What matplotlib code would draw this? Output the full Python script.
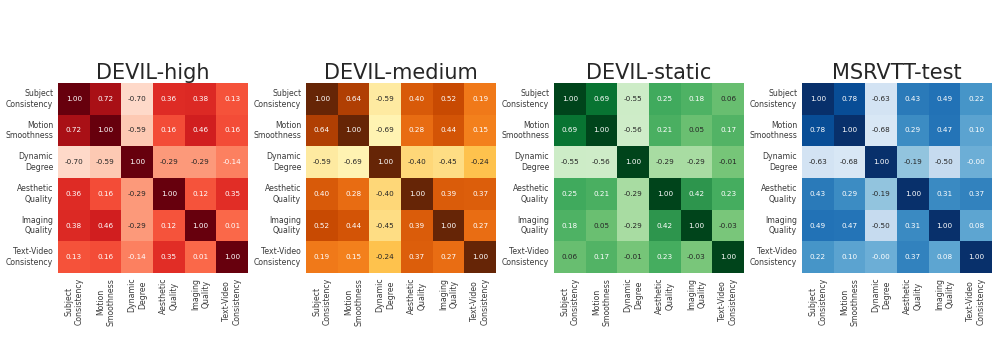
import numpy as np
import matplotlib
matplotlib.use("Agg")
import matplotlib.pyplot as plt
import seaborn as sns

labels = ["Subject\nConsistency", "Motion\nSmoothness", "Dynamic\nDegree",
          "Aesthetic\nQuality", "Imaging\nQuality", "Text-Video\nConsistency"]

titles = ["DEVIL-high", "DEVIL-medium", "DEVIL-static", "MSRVTT-test"]
cmaps = ["Reds", "YlOrBr", "Greens", "Blues"]

devil_high = [
    [1.00, 0.72, -0.70, 0.36, 0.38, 0.13],
    [0.72, 1.00, -0.59, 0.16, 0.46, 0.16],
    [-0.70, -0.59, 1.00, -0.29, -0.29, -0.14],
    [0.36, 0.16, -0.29, 1.00, 0.12, 0.35],
    [0.38, 0.46, -0.29, 0.12, 1.00, 0.01],
    [0.13, 0.16, -0.14, 0.35, 0.01, 1.00],
]
devil_medium = [
    [1.00, 0.64, -0.59, 0.40, 0.52, 0.19],
    [0.64, 1.00, -0.69, 0.28, 0.44, 0.15],
    [-0.59, -0.69, 1.00, -0.40, -0.45, -0.24],
    [0.40, 0.28, -0.40, 1.00, 0.39, 0.37],
    [0.52, 0.44, -0.45, 0.39, 1.00, 0.27],
    [0.19, 0.15, -0.24, 0.37, 0.27, 1.00],
]
devil_static = [
    [1.00, 0.69, -0.55, 0.25, 0.18, 0.06],
    [0.69, 1.00, -0.56, 0.21, 0.05, 0.17],
    [-0.55, -0.56, 1.00, -0.29, -0.29, -0.01],
    [0.25, 0.21, -0.29, 1.00, 0.42, 0.23],
    [0.18, 0.05, -0.29, 0.42, 1.00, -0.03],
    [0.06, 0.17, -0.01, 0.23, -0.03, 1.00],
]
msrvtt_test = [
    [1.00, 0.78, -0.63, 0.43, 0.49, 0.22],
    [0.78, 1.00, -0.68, 0.29, 0.47, 0.10],
    [-0.63, -0.68, 1.00, -0.19, -0.50, -0.001],
    [0.43, 0.29, -0.19, 1.00, 0.31, 0.37],
    [0.49, 0.47, -0.50, 0.31, 1.00, 0.08],
    [0.22, 0.10, -0.001, 0.37, 0.08, 1.00],
]
matrices = [devil_high, devil_medium, devil_static, msrvtt_test]

W, H = 997, 356
fig = plt.figure(figsize=(W / 100, H / 100), dpi=100)

lefts = [58, 306, 554, 802]
top = 83
size = 190

for left, mat, title, cmap in zip(lefts, matrices, titles, cmaps):
    ax = fig.add_axes([left / W, (H - top - size) / H, size / W, size / H])
    sns.heatmap(np.array(mat), ax=ax, cmap=cmap, vmin=-1, vmax=1, annot=True,
                fmt=".2f", cbar=False, square=False,
                annot_kws={"fontsize": 5.2},
                xticklabels=labels, yticklabels=labels)
    ax.set_title(title, fontsize=15, pad=2, color="#262626")
    ax.tick_params(length=0, pad=3.5, labelsize=5.6, colors="#3a3a3a")
    plt.setp(ax.get_xticklabels(), rotation=90, ha="center", va="top")
    plt.setp(ax.get_yticklabels(), rotation=0, ha="right", va="center")

fig.savefig("out.png", dpi=100)
